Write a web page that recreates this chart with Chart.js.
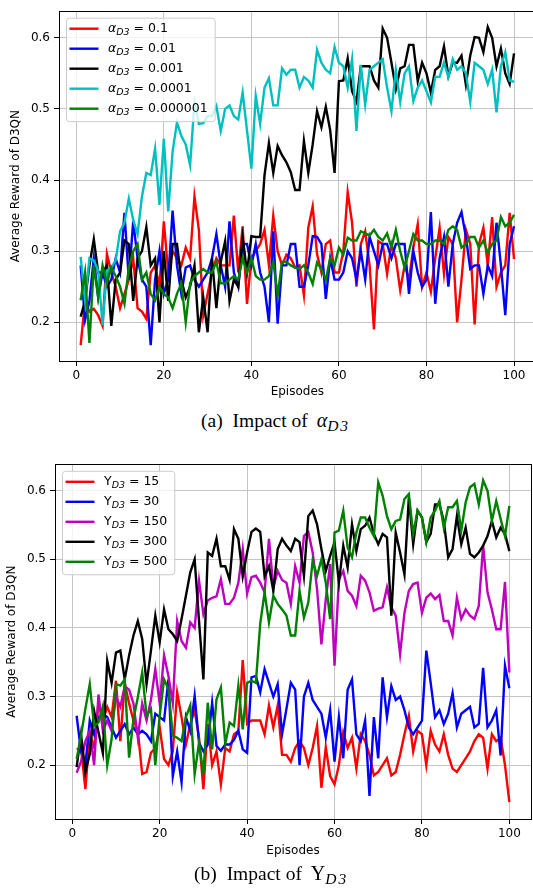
<!DOCTYPE html>
<html lang="en">
<head>
<meta charset="UTF-8" />
<title>D3QN average reward</title>
<script src="https://cdn.jsdelivr.net/npm/chart.js"></script>
<style>
  html, body {
    margin: 0;
    padding: 0;
    background: #fff;
    width: 533px;
    height: 892px;
    overflow: hidden;
  }
  canvas { position: absolute; left: 0; }
  #chartA { top: 0; }
  #chartB { top: 450px; }
  .caption {
    position: absolute;
    font-family: "Liberation Serif", "Times New Roman", serif;
    font-size: 19.5px;
    line-height: 19.5px;
    color: #000;
    white-space: nowrap;
  }
  .caption .tag { margin-right: 5px; }
  .caption .sym { margin-left: 4px; font-size: 20px; }
  .caption sub {
    font-size: 15.5px;
    font-style: italic;
    letter-spacing: 2px;
    vertical-align: -4px;
    line-height: 0;
  }
</style>
</head>
<body>
<canvas id="chartA" width="540" height="400"></canvas>
<canvas id="chartB" width="540" height="420"></canvas>
<div class="caption" style="left:201px; top:411px;"><span class="tag">(a)</span> Impact of <i class="sym">α</i><sub>D3</sub></div>
<div class="caption" style="left:194px; top:864px;"><span class="tag">(b)</span> Impact of <span class="sym">Υ</span><sub>D3</sub></div>

<script>
const episodes = Array.from({ length: 100 }, (_, i) => i + 1);
const xTicks = [0, 20, 40, 60, 80, 100];
const yTicks = [0.2, 0.3, 0.4, 0.5, 0.6];

// learning rate sweep
const alphaValues = ['0.1', '0.01', '0.001', '0.0001', '0.000001'];
const alphaColors = ['#ff0000', '#0000ff', '#000000', '#00bfbf', '#008000'];

const alpha0p1 = [
  0.168, 0.23, 0.215, 0.219, 0.21, 0.195, 0.296, 0.27, 0.25, 0.22,
  0.24, 0.26, 0.29, 0.22, 0.215, 0.205, 0.27, 0.28, 0.25, 0.342,
  0.27, 0.30, 0.29, 0.28, 0.305, 0.29, 0.377, 0.33, 0.21, 0.24,
  0.27, 0.29, 0.28, 0.28, 0.28, 0.35, 0.27, 0.335, 0.226, 0.29,
  0.30, 0.31, 0.33, 0.28, 0.35, 0.30, 0.28, 0.295, 0.29, 0.277,
  0.28, 0.238, 0.333, 0.363, 0.296, 0.27, 0.31, 0.315, 0.27, 0.27,
  0.30, 0.383, 0.34, 0.25, 0.31, 0.328, 0.28, 0.19, 0.314, 0.31,
  0.268, 0.31, 0.29, 0.245, 0.28, 0.26, 0.305, 0.338, 0.25, 0.27,
  0.243, 0.29, 0.333, 0.268, 0.32, 0.31, 0.20, 0.26, 0.33, 0.31,
  0.197, 0.31, 0.333, 0.28, 0.348, 0.25, 0.27, 0.28, 0.354, 0.289
];
const alpha0p01 = [
  0.28, 0.203, 0.23, 0.29, 0.235, 0.27, 0.25, 0.26, 0.29, 0.27,
  0.354, 0.26, 0.342, 0.29, 0.26, 0.25, 0.168, 0.26, 0.30, 0.24,
  0.26, 0.357, 0.28, 0.24, 0.277, 0.28, 0.26, 0.25, 0.26, 0.27,
  0.29, 0.324, 0.28, 0.25, 0.342, 0.27, 0.25, 0.31, 0.31, 0.28,
  0.31, 0.27, 0.25, 0.20, 0.328, 0.198, 0.28, 0.28, 0.31, 0.31,
  0.25, 0.25, 0.28, 0.321, 0.32, 0.31, 0.233, 0.29, 0.26, 0.26,
  0.27, 0.30, 0.29, 0.26, 0.30, 0.26, 0.32, 0.30, 0.28, 0.31,
  0.31, 0.29, 0.31, 0.31, 0.31, 0.24, 0.30, 0.27, 0.25, 0.26,
  0.355, 0.226, 0.29, 0.32, 0.25, 0.31, 0.34, 0.355, 0.32, 0.275,
  0.28, 0.28, 0.24, 0.28, 0.265, 0.34, 0.28, 0.21, 0.31, 0.335
];
const alpha0p001 = [
  0.208, 0.23, 0.28, 0.317, 0.27, 0.27, 0.28, 0.195, 0.26, 0.27,
  0.315, 0.31, 0.23, 0.29, 0.30, 0.334, 0.28, 0.29, 0.20, 0.30,
  0.23, 0.31, 0.31, 0.26, 0.235, 0.25, 0.28, 0.186, 0.235, 0.186,
  0.29, 0.22, 0.285, 0.314, 0.23, 0.26, 0.25, 0.32, 0.27, 0.321,
  0.32, 0.32, 0.407, 0.452, 0.41, 0.448, 0.435, 0.425, 0.411, 0.386,
  0.386, 0.455, 0.41, 0.45, 0.497, 0.474, 0.503, 0.47, 0.41, 0.539,
  0.54, 0.571, 0.525, 0.51, 0.56, 0.56, 0.56, 0.54, 0.53, 0.613,
  0.60, 0.565, 0.528, 0.557, 0.56, 0.59, 0.59, 0.539, 0.565, 0.55,
  0.523, 0.555, 0.56, 0.588, 0.546, 0.565, 0.565, 0.575, 0.534, 0.575,
  0.601, 0.60, 0.58, 0.615, 0.60, 0.56, 0.585, 0.55, 0.535, 0.578
];
const alpha0p0001 = [
  0.292, 0.231, 0.29, 0.287, 0.273, 0.196, 0.273, 0.277, 0.287, 0.328,
  0.34, 0.374, 0.344, 0.324, 0.377, 0.41, 0.407, 0.444, 0.365, 0.458,
  0.356, 0.44, 0.481, 0.462, 0.45, 0.421, 0.509, 0.479, 0.48, 0.49,
  0.49, 0.504, 0.469, 0.50, 0.505, 0.49, 0.485, 0.523, 0.47, 0.416,
  0.518, 0.479, 0.53, 0.543, 0.505, 0.505, 0.557, 0.548, 0.555, 0.555,
  0.53, 0.545, 0.54, 0.53, 0.583, 0.565, 0.555, 0.55, 0.587, 0.565,
  0.56, 0.53, 0.57, 0.469, 0.562, 0.506, 0.555, 0.56, 0.565, 0.57,
  0.53, 0.497, 0.555, 0.51, 0.55, 0.56, 0.511, 0.53, 0.54, 0.525,
  0.509, 0.545, 0.545, 0.565, 0.545, 0.57, 0.555, 0.56, 0.55, 0.51,
  0.565, 0.56, 0.555, 0.535, 0.555, 0.495, 0.56, 0.58, 0.54, 0.538
];
const alpha1e6 = [
  0.231, 0.27, 0.171, 0.28, 0.235, 0.28, 0.255, 0.277, 0.265, 0.25,
  0.226, 0.277, 0.30, 0.31, 0.26, 0.27, 0.24, 0.231, 0.25, 0.24,
  0.235, 0.22, 0.24, 0.255, 0.20, 0.255, 0.265, 0.27, 0.275, 0.27,
  0.27, 0.285, 0.255, 0.255, 0.26, 0.265, 0.26, 0.29, 0.27, 0.29,
  0.265, 0.26, 0.26, 0.265, 0.285, 0.238, 0.285, 0.285, 0.28, 0.277,
  0.275, 0.28, 0.27, 0.254, 0.284, 0.275, 0.26, 0.29, 0.28, 0.305,
  0.295, 0.319, 0.315, 0.315, 0.328, 0.325, 0.322, 0.33, 0.32, 0.315,
  0.325, 0.305, 0.33, 0.30, 0.277, 0.30, 0.324, 0.315, 0.315, 0.31,
  0.31, 0.315, 0.315, 0.31, 0.33, 0.335, 0.33, 0.305, 0.31, 0.32,
  0.32, 0.305, 0.315, 0.298, 0.31, 0.315, 0.348, 0.335, 0.34, 0.351
];

// update period sweep
const upsilonValues = ['15', '30', '150', '300', '500'];
const upsilonColors = ['#ff0000', '#0000ff', '#bf00bf', '#000000', '#008000'];

const ups15 = [
  0.223, 0.225, 0.165, 0.245, 0.226, 0.291, 0.265, 0.285, 0.27, 0.323,
  0.235, 0.32, 0.29, 0.265, 0.25, 0.187, 0.19, 0.218, 0.225, 0.255,
  0.209, 0.20, 0.22, 0.306, 0.27, 0.23, 0.26, 0.28, 0.24, 0.165,
  0.26, 0.20, 0.22, 0.172, 0.225, 0.22, 0.245, 0.25, 0.353, 0.26,
  0.265, 0.265, 0.265, 0.245, 0.287, 0.255, 0.287, 0.215, 0.215, 0.205,
  0.225, 0.235, 0.225, 0.20, 0.225, 0.257, 0.167, 0.226, 0.184, 0.172,
  0.20, 0.248, 0.225, 0.24, 0.195, 0.245, 0.235, 0.215, 0.185, 0.19,
  0.20, 0.21, 0.185, 0.19, 0.215, 0.245, 0.272, 0.22, 0.25, 0.245,
  0.20, 0.25, 0.23, 0.22, 0.245, 0.215, 0.195, 0.19, 0.20, 0.21,
  0.22, 0.235, 0.245, 0.24, 0.195, 0.245, 0.235, 0.24, 0.20, 0.146
];
const ups30 = [
  0.272, 0.22, 0.20, 0.265, 0.245, 0.27, 0.275, 0.27, 0.255, 0.24,
  0.25, 0.26, 0.245, 0.255, 0.245, 0.25, 0.245, 0.235, 0.275, 0.27,
  0.265, 0.325, 0.184, 0.22, 0.175, 0.27, 0.25, 0.301, 0.233, 0.22,
  0.23, 0.291, 0.228, 0.221, 0.23, 0.23, 0.237, 0.25, 0.223, 0.218,
  0.328, 0.33, 0.306, 0.34, 0.32, 0.30, 0.318, 0.245, 0.282, 0.32,
  0.31, 0.20, 0.30, 0.32, 0.295, 0.285, 0.275, 0.24, 0.28, 0.205,
  0.27, 0.21, 0.31, 0.325, 0.245, 0.235, 0.265, 0.155, 0.27, 0.21,
  0.328, 0.27, 0.315, 0.295, 0.30, 0.28, 0.255, 0.245, 0.255, 0.265,
  0.367, 0.32, 0.27, 0.28, 0.26, 0.275, 0.305, 0.255, 0.275, 0.28,
  0.285, 0.255, 0.26, 0.342, 0.255, 0.265, 0.28, 0.214, 0.345, 0.312
];
const ups150 = [
  0.189, 0.205, 0.235, 0.25, 0.20, 0.303, 0.25, 0.265, 0.25, 0.30,
  0.285, 0.315, 0.31, 0.29, 0.24, 0.29, 0.265, 0.295, 0.34, 0.29,
  0.36, 0.33, 0.29, 0.41, 0.381, 0.371, 0.408, 0.40, 0.469, 0.42,
  0.44, 0.444, 0.446, 0.471, 0.435, 0.435, 0.444, 0.466, 0.515, 0.45,
  0.474, 0.476, 0.466, 0.452, 0.53, 0.459, 0.483, 0.47, 0.466, 0.435,
  0.49, 0.466, 0.534, 0.54, 0.51, 0.457, 0.376, 0.442, 0.493, 0.345,
  0.471, 0.483, 0.454, 0.447, 0.432, 0.476, 0.469, 0.452, 0.425, 0.428,
  0.43, 0.459, 0.43, 0.418, 0.362, 0.422, 0.454, 0.464, 0.466, 0.422,
  0.444, 0.45, 0.442, 0.448, 0.41, 0.41, 0.389, 0.444, 0.413, 0.427,
  0.418, 0.413, 0.432, 0.52, 0.452, 0.427, 0.398, 0.398, 0.467, 0.335
];
const ups300 = [
  0.197, 0.245, 0.19, 0.216, 0.279, 0.248, 0.218, 0.352, 0.32, 0.364,
  0.367, 0.325, 0.36, 0.389, 0.41, 0.384, 0.318, 0.367, 0.418, 0.379,
  0.427, 0.398, 0.391, 0.381, 0.413, 0.447, 0.481, 0.50, 0.41, 0.325,
  0.51, 0.505, 0.53, 0.49, 0.49, 0.47, 0.544, 0.53, 0.475, 0.51,
  0.54, 0.545, 0.54, 0.475, 0.49, 0.454, 0.515, 0.53, 0.52, 0.512,
  0.53, 0.525, 0.476, 0.563, 0.571, 0.551, 0.515, 0.483, 0.505, 0.525,
  0.466, 0.52, 0.488, 0.551, 0.512, 0.544, 0.549, 0.561, 0.537, 0.522,
  0.537, 0.532, 0.418, 0.539, 0.51, 0.478, 0.59, 0.522, 0.571, 0.561,
  0.525, 0.537, 0.58, 0.58, 0.556, 0.503, 0.515, 0.563, 0.522, 0.546,
  0.508, 0.503, 0.51, 0.52, 0.534, 0.556, 0.532, 0.546, 0.537, 0.512
];
const ups500 = [
  0.209, 0.243, 0.282, 0.318, 0.257, 0.262, 0.286, 0.20, 0.238, 0.318,
  0.316, 0.325, 0.211, 0.267, 0.299, 0.335, 0.272, 0.282, 0.20, 0.272,
  0.325, 0.311, 0.243, 0.24, 0.235, 0.27, 0.287, 0.187, 0.233, 0.187,
  0.291, 0.223, 0.296, 0.313, 0.231, 0.262, 0.257, 0.316, 0.252, 0.32,
  0.323, 0.32, 0.406, 0.452, 0.408, 0.447, 0.435, 0.427, 0.418, 0.389,
  0.389, 0.454, 0.415, 0.437, 0.498, 0.476, 0.50, 0.466, 0.413, 0.539,
  0.542, 0.571, 0.517, 0.503, 0.539, 0.561, 0.561, 0.546, 0.534, 0.612,
  0.593, 0.563, 0.544, 0.556, 0.558, 0.588, 0.595, 0.537, 0.571, 0.561,
  0.525, 0.561, 0.571, 0.585, 0.546, 0.576, 0.576, 0.585, 0.542, 0.583,
  0.605, 0.61, 0.58, 0.615, 0.60, 0.556, 0.585, 0.559, 0.534, 0.578
];

const tickFont = { family: '"DejaVu Sans", sans-serif', size: 12 };
const gridColor = '#c4c4c4';

// black box around the plotting area, like matplotlib spines
const frame = {
  id: 'frame',
  afterDatasetsDraw(chart) {
    const { ctx, chartArea: a } = chart;
    ctx.save();
    ctx.strokeStyle = '#000';
    ctx.lineWidth = 1;
    ctx.strokeRect(Math.round(a.left) + 0.5, Math.round(a.top) + 0.5,
                   Math.round(a.right - a.left), Math.round(a.bottom - a.top));
    ctx.restore();
  }
};

// legend box in the upper left corner with subscripted symbols
function legendBox(names, colors, symbol, italicSymbol) {
  return {
    id: 'mplLegend',
    afterDraw(chart) {
      const { ctx, chartArea } = chart;
      const bx = chartArea.left + 7, by = chartArea.top + 6.5;
      const rowH = 20, textX = 42;
      const symFont = (italicSymbol ? 'italic ' : '') + '12.5px "DejaVu Sans"';
      const subFont = 'italic 9.5px "DejaVu Sans"';
      const txtFont = '12.5px "DejaVu Sans"';
      ctx.save();
      const widths = names.map(n => {
        ctx.font = symFont; let w = ctx.measureText(symbol).width;
        ctx.font = subFont; w += ctx.measureText('D3').width;
        ctx.font = txtFont; w += ctx.measureText(' = ' + n).width;
        return w;
      });
      const bw = textX + Math.max(...widths) + 7;
      const bh = 11 + rowH * (names.length - 1) + 12.5;
      ctx.beginPath();
      ctx.roundRect(bx + 0.5, by + 0.5, bw, bh, 3);
      ctx.fillStyle = 'rgba(255,255,255,0.8)';
      ctx.fill();
      ctx.strokeStyle = '#cccccc';
      ctx.lineWidth = 1;
      ctx.stroke();
      names.forEach((n, i) => {
        const y = by + 11 + rowH * i;
        ctx.strokeStyle = colors[i];
        ctx.lineWidth = 2.4;
        ctx.beginPath();
        ctx.moveTo(bx + 3.5, y);
        ctx.lineTo(bx + 32.5, y);
        ctx.stroke();
        let x = bx + textX;
        ctx.fillStyle = '#000';
        ctx.textBaseline = 'middle';
        ctx.textAlign = 'left';
        ctx.font = symFont; ctx.fillText(symbol, x, y); x += ctx.measureText(symbol).width;
        ctx.font = subFont; ctx.fillText('D3', x, y + 3.5); x += ctx.measureText('D3').width;
        ctx.font = txtFont; ctx.fillText(' = ' + n, x, y);
      });
      ctx.restore();
    }
  };
}

function rewardChart(id, runs, names, colors, symbol, italicSymbol, box) {
  const datasets = runs.map((run, i) => ({
    label: names[i],
    data: run.map((y, k) => ({ x: episodes[k], y })),
    borderColor: colors[i],
    backgroundColor: colors[i],
    borderWidth: 2.4,
    pointRadius: 0,
    tension: 0,
    order: runs.length - i
  }));

  return new Chart(document.getElementById(id), {
    type: 'line',
    data: { datasets },
    options: {
      responsive: false,
      animation: false,
      devicePixelRatio: 1,
      layout: { padding: { top: box.top, right: box.right, left: 0, bottom: 0 } },
      scales: {
        x: {
          type: 'linear',
          min: -3.95,
          max: 104.95,
          afterBuildTicks: s => { s.ticks = xTicks.map(v => ({ value: v })); },
          afterFit: s => { s.height = box.xHeight; },
          grid: { color: gridColor, lineWidth: 1, tickColor: '#000', tickLength: 5 },
          border: { display: false },
          ticks: { color: '#000', font: tickFont, padding: 3, maxRotation: 0, callback: v => String(v) },
          title: { display: true, text: 'Episodes', color: '#000', font: tickFont,
                   padding: { top: 0, bottom: box.xTitlePad } }
        },
        y: {
          min: box.yMin,
          max: box.yMax,
          afterBuildTicks: s => { s.ticks = yTicks.map(v => ({ value: v })); },
          afterFit: s => { s.width = box.yWidth; },
          grid: { color: gridColor, lineWidth: 1, tickColor: '#000', tickLength: 5 },
          border: { display: false },
          ticks: { color: '#000', font: tickFont, padding: 4, callback: v => v.toFixed(1) },
          title: { display: true, text: 'Average Reward of D3QN', color: '#000', font: tickFont,
                   padding: { top: box.yTitlePad, bottom: 0 } }
        }
      },
      plugins: {
        legend: { display: false },
        tooltip: { enabled: false }
      }
    },
    plugins: [frame, legendBox(names, colors, symbol, italicSymbol)]
  });
}

rewardChart('chartA',
  [alpha0p1, alpha0p01, alpha0p001, alpha0p0001, alpha1e6],
  alphaValues, alphaColors, 'α', true,
  { top: 7, right: 4.3, xHeight: 39, yWidth: 59, yMin: 0.1456, yMax: 0.6374, xTitlePad: 1.4, yTitlePad: 8.4 });

rewardChart('chartB',
  [ups15, ups30, ups150, ups300, ups500],
  upsilonValues, upsilonColors, 'Υ', false,
  { top: 14.3, right: 9, xHeight: 51, yWidth: 55, yMin: 0.1215, yMax: 0.6385, xTitlePad: 12.4, yTitlePad: 4.4 });
</script>
</body>
</html>
